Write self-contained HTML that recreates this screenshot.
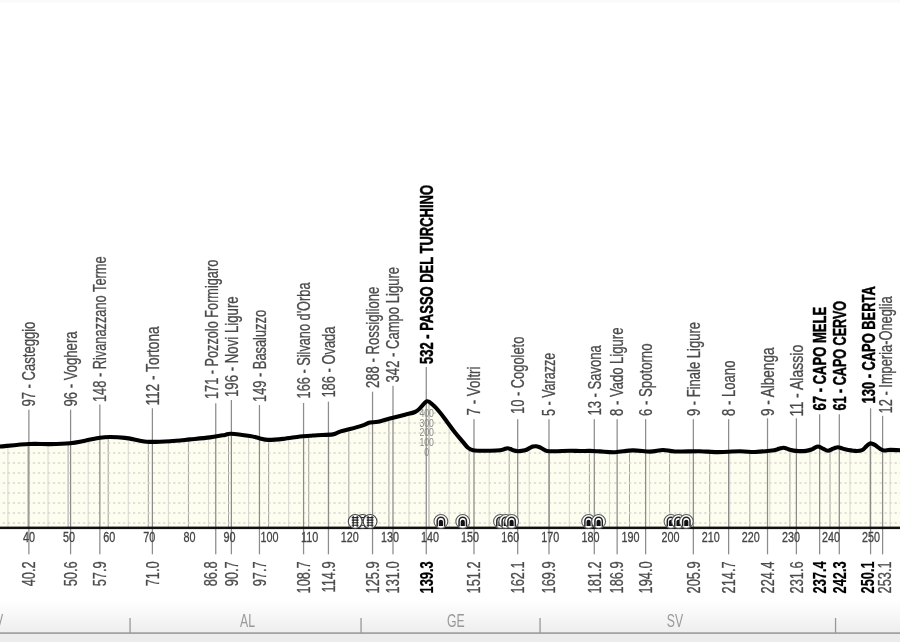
<!DOCTYPE html>
<html><head><meta charset="utf-8"><style>
html,body{margin:0;padding:0;background:#fff;overflow:hidden}
svg{display:block;position:absolute;left:-5px;top:-5px;filter:blur(0.35px);font-family:"Liberation Sans",sans-serif}
</style></head><body>
<svg width="910" height="652" viewBox="-5 -5 910 652">
<defs><linearGradient id="bg" x1="0" y1="0" x2="0" y2="1"><stop offset="0" stop-color="#ffffff"/><stop offset="1" stop-color="#eeeeee"/></linearGradient>
<clipPath id="cp"><path d="M-6,447 C-5.00,446.92 -5.83,447.00 0,446.5 C5.83,446.00 20.67,444.40 29,444.0 C37.33,443.60 43.17,444.23 50,444.1 C56.83,443.97 64.17,443.77 70,443.2 C75.83,442.63 80.00,441.62 85,440.7 C90.00,439.78 95.83,438.32 100,437.7 C104.17,437.08 105.83,436.97 110,437.0 C114.17,437.03 120.00,437.28 125,437.9 C130.00,438.52 135.83,440.03 140,440.7 C144.17,441.37 145.00,441.82 150,441.9 C155.00,441.98 163.33,441.62 170,441.2 C176.67,440.78 183.33,440.03 190,439.4 C196.67,438.77 204.17,438.15 210,437.4 C215.83,436.65 221.50,435.52 225,434.9 C228.50,434.28 226.83,433.52 231,433.7 C235.17,433.88 245.17,435.22 250,436 C254.83,436.78 257.00,437.75 260,438.4 C263.00,439.05 264.17,439.82 268,439.9 C271.83,439.98 277.67,439.47 283,438.9 C288.33,438.33 295.50,437.02 300,436.5 C304.50,435.98 307.17,436.02 310,435.8 C312.83,435.58 313.17,435.43 317,435.2 C320.83,434.97 329.17,435.00 333,434.4 C336.83,433.80 337.17,432.48 340,431.6 C342.83,430.72 346.33,430.10 350,429.1 C353.67,428.10 358.67,426.70 362,425.6 C365.33,424.50 367.33,423.13 370,422.5 C372.67,421.87 374.33,422.55 378,421.8 C381.67,421.05 387.50,419.18 392,418 C396.50,416.82 401.17,415.70 405,414.7 C408.83,413.70 412.50,413.07 415,412 C417.50,410.93 418.00,410.08 420,408.3 C422.00,406.52 424.83,401.85 427,401.3 C429.17,400.75 430.83,403.13 433,405 C435.17,406.87 437.67,409.72 440,412.5 C442.33,415.28 444.50,418.37 447,421.7 C449.50,425.03 452.50,429.32 455,432.5 C457.50,435.68 459.83,438.25 462,440.8 C464.17,443.35 466.17,446.22 468,447.8 C469.83,449.38 471.00,449.82 473,450.3 C475.00,450.78 477.17,450.63 480,450.7 C482.83,450.77 486.67,450.77 490,450.7 C493.33,450.63 497.67,450.55 500,450.3 C502.33,450.05 502.75,449.55 504,449.2 C505.25,448.85 506.42,448.23 507.5,448.2 C508.58,448.17 509.58,448.65 510.5,449 C511.42,449.35 511.75,449.93 513,450.3 C514.25,450.67 516.00,451.20 518,451.2 C520.00,451.20 523.00,450.85 525,450.3 C527.00,449.75 528.67,448.52 530,447.9 C531.33,447.28 532.00,446.87 533,446.6 C534.00,446.33 535.00,446.23 536,446.3 C537.00,446.37 538.00,446.63 539,447 C540.00,447.37 540.67,447.85 542,448.5 C543.33,449.15 544.83,450.45 547,450.9 C549.17,451.35 551.17,451.23 555,451.2 C558.83,451.17 565.83,450.73 570,450.7 C574.17,450.67 576.67,450.97 580,451 C583.33,451.03 586.67,450.83 590,450.9 C593.33,450.97 595.83,451.18 600,451.4 C604.17,451.62 609.50,452.37 615,452.2 C620.50,452.03 627.17,450.50 633,450.4 C638.83,450.30 645.00,451.67 650,451.6 C655.00,451.53 658.83,450.02 663,450 C667.17,449.98 668.83,451.30 675,451.5 C681.17,451.70 693.33,451.10 700,451.2 C706.67,451.30 708.33,452.08 715,452.1 C721.67,452.12 733.33,451.32 740,451.3 C746.67,451.28 749.67,452.13 755,452 C760.33,451.87 768.33,450.93 772,450.5 C775.67,450.07 775.58,449.77 777,449.4 C778.42,449.03 779.38,448.57 780.5,448.3 C781.62,448.03 782.62,447.75 783.7,447.8 C784.78,447.85 785.95,448.28 787,448.6 C788.05,448.92 788.50,449.32 790,449.7 C791.50,450.08 793.33,450.70 796,450.9 C798.67,451.10 803.33,451.17 806,450.9 C808.67,450.63 810.50,449.85 812,449.3 C813.50,448.75 814.00,448.07 815,447.6 C816.00,447.13 817.08,446.55 818,446.5 C818.92,446.45 819.67,446.93 820.5,447.3 C821.33,447.67 821.75,448.12 823,448.7 C824.25,449.28 826.33,450.80 828,450.8 C829.67,450.80 831.75,449.22 833,448.7 C834.25,448.18 834.67,447.93 835.5,447.7 C836.33,447.47 837.08,447.25 838,447.3 C838.92,447.35 839.83,447.67 841,448 C842.17,448.33 842.67,448.82 845,449.3 C847.33,449.78 852.17,450.75 855,450.9 C857.83,451.05 860.17,450.92 862,450.2 C863.83,449.48 864.92,447.57 866,446.6 C867.08,445.63 867.75,444.93 868.5,444.4 C869.25,443.87 869.83,443.48 870.5,443.4 C871.17,443.32 871.75,443.62 872.5,443.9 C873.25,444.18 873.75,444.30 875,445.1 C876.25,445.90 878.50,447.80 880,448.7 C881.50,449.60 882.33,450.30 884,450.5 C885.67,450.70 887.33,449.95 890,449.9 C892.67,449.85 897.33,450.13 900,450.2 C902.67,450.27 905.00,450.28 906,450.3 L906,527 L-6,527 Z"/></clipPath></defs>
<rect x="-5" y="-5" width="910" height="652" fill="#fff"/>
<rect x="-5" y="-5" width="910" height="7.7" fill="#fafafa"/>
<rect x="-5" y="600" width="910" height="33" fill="url(#bg)"/>
<rect x="-5" y="633.8" width="910" height="14" fill="#ececec"/>
<rect x="-5" y="632.3" width="910" height="1.6" fill="#9a9a9a"/>
<rect x="129.4" y="618" width="1.3" height="15" fill="#999"/>
<rect x="360.4" y="618" width="1.3" height="15" fill="#999"/>
<rect x="539.4" y="618" width="1.3" height="15" fill="#999"/>
<rect x="834.9" y="618" width="1.3" height="15" fill="#999"/>
<text transform="translate(-5,626.5) scale(0.7,1)" text-anchor="middle" font-size="17.5" fill="#999">PV</text>
<text transform="translate(247.5,626.5) scale(0.7,1)" text-anchor="middle" font-size="17.5" fill="#999">AL</text>
<text transform="translate(455.8,626.5) scale(0.7,1)" text-anchor="middle" font-size="17.5" fill="#999">GE</text>
<text transform="translate(675,626.5) scale(0.7,1)" text-anchor="middle" font-size="17.5" fill="#999">SV</text>
<path d="M-6,447 C-5.00,446.92 -5.83,447.00 0,446.5 C5.83,446.00 20.67,444.40 29,444.0 C37.33,443.60 43.17,444.23 50,444.1 C56.83,443.97 64.17,443.77 70,443.2 C75.83,442.63 80.00,441.62 85,440.7 C90.00,439.78 95.83,438.32 100,437.7 C104.17,437.08 105.83,436.97 110,437.0 C114.17,437.03 120.00,437.28 125,437.9 C130.00,438.52 135.83,440.03 140,440.7 C144.17,441.37 145.00,441.82 150,441.9 C155.00,441.98 163.33,441.62 170,441.2 C176.67,440.78 183.33,440.03 190,439.4 C196.67,438.77 204.17,438.15 210,437.4 C215.83,436.65 221.50,435.52 225,434.9 C228.50,434.28 226.83,433.52 231,433.7 C235.17,433.88 245.17,435.22 250,436 C254.83,436.78 257.00,437.75 260,438.4 C263.00,439.05 264.17,439.82 268,439.9 C271.83,439.98 277.67,439.47 283,438.9 C288.33,438.33 295.50,437.02 300,436.5 C304.50,435.98 307.17,436.02 310,435.8 C312.83,435.58 313.17,435.43 317,435.2 C320.83,434.97 329.17,435.00 333,434.4 C336.83,433.80 337.17,432.48 340,431.6 C342.83,430.72 346.33,430.10 350,429.1 C353.67,428.10 358.67,426.70 362,425.6 C365.33,424.50 367.33,423.13 370,422.5 C372.67,421.87 374.33,422.55 378,421.8 C381.67,421.05 387.50,419.18 392,418 C396.50,416.82 401.17,415.70 405,414.7 C408.83,413.70 412.50,413.07 415,412 C417.50,410.93 418.00,410.08 420,408.3 C422.00,406.52 424.83,401.85 427,401.3 C429.17,400.75 430.83,403.13 433,405 C435.17,406.87 437.67,409.72 440,412.5 C442.33,415.28 444.50,418.37 447,421.7 C449.50,425.03 452.50,429.32 455,432.5 C457.50,435.68 459.83,438.25 462,440.8 C464.17,443.35 466.17,446.22 468,447.8 C469.83,449.38 471.00,449.82 473,450.3 C475.00,450.78 477.17,450.63 480,450.7 C482.83,450.77 486.67,450.77 490,450.7 C493.33,450.63 497.67,450.55 500,450.3 C502.33,450.05 502.75,449.55 504,449.2 C505.25,448.85 506.42,448.23 507.5,448.2 C508.58,448.17 509.58,448.65 510.5,449 C511.42,449.35 511.75,449.93 513,450.3 C514.25,450.67 516.00,451.20 518,451.2 C520.00,451.20 523.00,450.85 525,450.3 C527.00,449.75 528.67,448.52 530,447.9 C531.33,447.28 532.00,446.87 533,446.6 C534.00,446.33 535.00,446.23 536,446.3 C537.00,446.37 538.00,446.63 539,447 C540.00,447.37 540.67,447.85 542,448.5 C543.33,449.15 544.83,450.45 547,450.9 C549.17,451.35 551.17,451.23 555,451.2 C558.83,451.17 565.83,450.73 570,450.7 C574.17,450.67 576.67,450.97 580,451 C583.33,451.03 586.67,450.83 590,450.9 C593.33,450.97 595.83,451.18 600,451.4 C604.17,451.62 609.50,452.37 615,452.2 C620.50,452.03 627.17,450.50 633,450.4 C638.83,450.30 645.00,451.67 650,451.6 C655.00,451.53 658.83,450.02 663,450 C667.17,449.98 668.83,451.30 675,451.5 C681.17,451.70 693.33,451.10 700,451.2 C706.67,451.30 708.33,452.08 715,452.1 C721.67,452.12 733.33,451.32 740,451.3 C746.67,451.28 749.67,452.13 755,452 C760.33,451.87 768.33,450.93 772,450.5 C775.67,450.07 775.58,449.77 777,449.4 C778.42,449.03 779.38,448.57 780.5,448.3 C781.62,448.03 782.62,447.75 783.7,447.8 C784.78,447.85 785.95,448.28 787,448.6 C788.05,448.92 788.50,449.32 790,449.7 C791.50,450.08 793.33,450.70 796,450.9 C798.67,451.10 803.33,451.17 806,450.9 C808.67,450.63 810.50,449.85 812,449.3 C813.50,448.75 814.00,448.07 815,447.6 C816.00,447.13 817.08,446.55 818,446.5 C818.92,446.45 819.67,446.93 820.5,447.3 C821.33,447.67 821.75,448.12 823,448.7 C824.25,449.28 826.33,450.80 828,450.8 C829.67,450.80 831.75,449.22 833,448.7 C834.25,448.18 834.67,447.93 835.5,447.7 C836.33,447.47 837.08,447.25 838,447.3 C838.92,447.35 839.83,447.67 841,448 C842.17,448.33 842.67,448.82 845,449.3 C847.33,449.78 852.17,450.75 855,450.9 C857.83,451.05 860.17,450.92 862,450.2 C863.83,449.48 864.92,447.57 866,446.6 C867.08,445.63 867.75,444.93 868.5,444.4 C869.25,443.87 869.83,443.48 870.5,443.4 C871.17,443.32 871.75,443.62 872.5,443.9 C873.25,444.18 873.75,444.30 875,445.1 C876.25,445.90 878.50,447.80 880,448.7 C881.50,449.60 882.33,450.30 884,450.5 C885.67,450.70 887.33,449.95 890,449.9 C892.67,449.85 897.33,450.13 900,450.2 C902.67,450.27 905.00,450.28 906,450.3 L906,527 L-6,527 Z" fill="#fdfdf0"/>
<g clip-path="url(#cp)">
<rect x="-12.60" y="380" width="1" height="147" fill="#a4a4a0"/>
<rect x="7.45" y="380" width="1" height="147" fill="#d6d6d0"/>
<rect x="27.50" y="380" width="1" height="147" fill="#a4a4a0"/>
<rect x="47.55" y="380" width="1" height="147" fill="#d6d6d0"/>
<rect x="67.60" y="380" width="1" height="147" fill="#a4a4a0"/>
<rect x="87.65" y="380" width="1" height="147" fill="#d6d6d0"/>
<rect x="107.70" y="380" width="1" height="147" fill="#a4a4a0"/>
<rect x="127.75" y="380" width="1" height="147" fill="#d6d6d0"/>
<rect x="147.80" y="380" width="1" height="147" fill="#a4a4a0"/>
<rect x="167.85" y="380" width="1" height="147" fill="#d6d6d0"/>
<rect x="187.90" y="380" width="1" height="147" fill="#a4a4a0"/>
<rect x="207.95" y="380" width="1" height="147" fill="#d6d6d0"/>
<rect x="228.00" y="380" width="1" height="147" fill="#a4a4a0"/>
<rect x="248.05" y="380" width="1" height="147" fill="#d6d6d0"/>
<rect x="268.10" y="380" width="1" height="147" fill="#a4a4a0"/>
<rect x="288.15" y="380" width="1" height="147" fill="#d6d6d0"/>
<rect x="308.20" y="380" width="1" height="147" fill="#a4a4a0"/>
<rect x="328.25" y="380" width="1" height="147" fill="#d6d6d0"/>
<rect x="348.30" y="380" width="1" height="147" fill="#a4a4a0"/>
<rect x="368.35" y="380" width="1" height="147" fill="#d6d6d0"/>
<rect x="388.40" y="380" width="1" height="147" fill="#a4a4a0"/>
<rect x="408.45" y="380" width="1" height="147" fill="#d6d6d0"/>
<rect x="428.50" y="380" width="1" height="147" fill="#a4a4a0"/>
<rect x="448.55" y="380" width="1" height="147" fill="#d6d6d0"/>
<rect x="468.60" y="380" width="1" height="147" fill="#a4a4a0"/>
<rect x="488.65" y="380" width="1" height="147" fill="#d6d6d0"/>
<rect x="508.70" y="380" width="1" height="147" fill="#a4a4a0"/>
<rect x="528.75" y="380" width="1" height="147" fill="#d6d6d0"/>
<rect x="548.80" y="380" width="1" height="147" fill="#a4a4a0"/>
<rect x="568.85" y="380" width="1" height="147" fill="#d6d6d0"/>
<rect x="588.90" y="380" width="1" height="147" fill="#a4a4a0"/>
<rect x="608.95" y="380" width="1" height="147" fill="#d6d6d0"/>
<rect x="629.00" y="380" width="1" height="147" fill="#a4a4a0"/>
<rect x="649.05" y="380" width="1" height="147" fill="#d6d6d0"/>
<rect x="669.10" y="380" width="1" height="147" fill="#a4a4a0"/>
<rect x="689.15" y="380" width="1" height="147" fill="#d6d6d0"/>
<rect x="709.20" y="380" width="1" height="147" fill="#a4a4a0"/>
<rect x="729.25" y="380" width="1" height="147" fill="#d6d6d0"/>
<rect x="749.30" y="380" width="1" height="147" fill="#a4a4a0"/>
<rect x="769.35" y="380" width="1" height="147" fill="#d6d6d0"/>
<rect x="789.40" y="380" width="1" height="147" fill="#a4a4a0"/>
<rect x="809.45" y="380" width="1" height="147" fill="#d6d6d0"/>
<rect x="829.50" y="380" width="1" height="147" fill="#a4a4a0"/>
<rect x="849.55" y="380" width="1" height="147" fill="#d6d6d0"/>
<rect x="869.60" y="380" width="1" height="147" fill="#a4a4a0"/>
<rect x="889.65" y="380" width="1" height="147" fill="#d6d6d0"/>
<line x1="-6" y1="452.9" x2="906" y2="452.9" stroke="#d8d8d0" stroke-width="1.5" stroke-dasharray="2.3 2.71" stroke-dashoffset="-8.74"/>
<line x1="-6" y1="442.9" x2="906" y2="442.9" stroke="#d8d8d0" stroke-width="1.5" stroke-dasharray="2.3 2.71" stroke-dashoffset="-8.74"/>
<line x1="-6" y1="432.9" x2="906" y2="432.9" stroke="#d8d8d0" stroke-width="1.5" stroke-dasharray="2.3 2.71" stroke-dashoffset="-8.74"/>
<line x1="-6" y1="422.9" x2="906" y2="422.9" stroke="#d8d8d0" stroke-width="1.5" stroke-dasharray="2.3 2.71" stroke-dashoffset="-8.74"/>
<line x1="-6" y1="412.9" x2="906" y2="412.9" stroke="#d8d8d0" stroke-width="1.5" stroke-dasharray="2.3 2.71" stroke-dashoffset="-8.74"/>
<line x1="-6" y1="402.9" x2="906" y2="402.9" stroke="#d8d8d0" stroke-width="1.5" stroke-dasharray="2.3 2.71" stroke-dashoffset="-8.74"/>
<line x1="-6" y1="462.9" x2="906" y2="462.9" stroke="#d8d8d0" stroke-width="1.5" stroke-dasharray="2.3 2.71" stroke-dashoffset="-8.74"/>
<line x1="-6" y1="472.9" x2="906" y2="472.9" stroke="#d8d8d0" stroke-width="1.5" stroke-dasharray="2.3 2.71" stroke-dashoffset="-8.74"/>
<line x1="-6" y1="482.9" x2="906" y2="482.9" stroke="#d8d8d0" stroke-width="1.5" stroke-dasharray="2.3 2.71" stroke-dashoffset="-8.74"/>
<line x1="-6" y1="492.9" x2="906" y2="492.9" stroke="#d8d8d0" stroke-width="1.5" stroke-dasharray="2.3 2.71" stroke-dashoffset="-8.74"/>
<line x1="-6" y1="502.9" x2="906" y2="502.9" stroke="#d8d8d0" stroke-width="1.5" stroke-dasharray="2.3 2.71" stroke-dashoffset="-8.74"/>
<line x1="-6" y1="512.9" x2="906" y2="512.9" stroke="#d8d8d0" stroke-width="1.5" stroke-dasharray="2.3 2.71" stroke-dashoffset="-8.74"/>
<line x1="-6" y1="522.9" x2="906" y2="522.9" stroke="#d8d8d0" stroke-width="1.5" stroke-dasharray="2.3 2.71" stroke-dashoffset="-8.74"/>
</g>
<rect x="28.25" y="409.7" width="1.25" height="117.30000000000001" fill="#8c8c8c"/>
<rect x="28.25" y="527" width="1.25" height="27.3" fill="#8c8c8c"/>
<rect x="69.96" y="409.7" width="1.25" height="117.30000000000001" fill="#8c8c8c"/>
<rect x="69.96" y="527" width="1.25" height="27.3" fill="#8c8c8c"/>
<rect x="99.23" y="404.5" width="1.25" height="122.5" fill="#8c8c8c"/>
<rect x="99.23" y="527" width="1.25" height="27.3" fill="#8c8c8c"/>
<rect x="151.76" y="408.3" width="1.25" height="118.69999999999999" fill="#8c8c8c"/>
<rect x="151.76" y="527" width="1.25" height="27.3" fill="#8c8c8c"/>
<rect x="215.12" y="403.3" width="1.25" height="123.69999999999999" fill="#8c8c8c"/>
<rect x="215.12" y="527" width="1.25" height="27.3" fill="#8c8c8c"/>
<rect x="230.76" y="400" width="1.25" height="127" fill="#8c8c8c"/>
<rect x="230.76" y="527" width="1.25" height="27.3" fill="#8c8c8c"/>
<rect x="258.83" y="405" width="1.25" height="122" fill="#8c8c8c"/>
<rect x="258.83" y="527" width="1.25" height="27.3" fill="#8c8c8c"/>
<rect x="302.94" y="403" width="1.25" height="124" fill="#8c8c8c"/>
<rect x="302.94" y="527" width="1.25" height="27.3" fill="#8c8c8c"/>
<rect x="327.80" y="401.7" width="1.25" height="125.30000000000001" fill="#8c8c8c"/>
<rect x="327.80" y="527" width="1.25" height="27.3" fill="#8c8c8c"/>
<rect x="371.91" y="391.7" width="1.25" height="135.3" fill="#8c8c8c"/>
<rect x="371.91" y="527" width="1.25" height="27.3" fill="#8c8c8c"/>
<rect x="392.36" y="385.8" width="1.25" height="141.2" fill="#8c8c8c"/>
<rect x="392.36" y="527" width="1.25" height="27.3" fill="#8c8c8c"/>
<rect x="425.64" y="367" width="1.25" height="160" fill="#8c8c8c"/>
<rect x="425.64" y="527" width="1.25" height="27.3" fill="#8c8c8c"/>
<rect x="473.36" y="419.2" width="1.25" height="107.80000000000001" fill="#8c8c8c"/>
<rect x="473.36" y="527" width="1.25" height="27.3" fill="#8c8c8c"/>
<rect x="517.07" y="419.2" width="1.25" height="107.80000000000001" fill="#8c8c8c"/>
<rect x="517.07" y="527" width="1.25" height="27.3" fill="#8c8c8c"/>
<rect x="548.35" y="419.2" width="1.25" height="107.80000000000001" fill="#8c8c8c"/>
<rect x="548.35" y="527" width="1.25" height="27.3" fill="#8c8c8c"/>
<rect x="593.66" y="419.2" width="1.25" height="107.80000000000001" fill="#8c8c8c"/>
<rect x="593.66" y="527" width="1.25" height="27.3" fill="#8c8c8c"/>
<rect x="616.52" y="419.2" width="1.25" height="107.80000000000001" fill="#8c8c8c"/>
<rect x="616.52" y="527" width="1.25" height="27.3" fill="#8c8c8c"/>
<rect x="644.99" y="419.2" width="1.25" height="107.80000000000001" fill="#8c8c8c"/>
<rect x="644.99" y="527" width="1.25" height="27.3" fill="#8c8c8c"/>
<rect x="692.71" y="419.2" width="1.25" height="107.80000000000001" fill="#8c8c8c"/>
<rect x="692.71" y="527" width="1.25" height="27.3" fill="#8c8c8c"/>
<rect x="728.00" y="419.2" width="1.25" height="107.80000000000001" fill="#8c8c8c"/>
<rect x="728.00" y="527" width="1.25" height="27.3" fill="#8c8c8c"/>
<rect x="766.89" y="418.3" width="1.25" height="108.69999999999999" fill="#8c8c8c"/>
<rect x="766.89" y="527" width="1.25" height="27.3" fill="#8c8c8c"/>
<rect x="795.77" y="418.3" width="1.25" height="108.69999999999999" fill="#8c8c8c"/>
<rect x="795.77" y="527" width="1.25" height="27.3" fill="#8c8c8c"/>
<rect x="819.02" y="414.2" width="1.25" height="112.80000000000001" fill="#8c8c8c"/>
<rect x="819.02" y="527" width="1.25" height="27.3" fill="#8c8c8c"/>
<rect x="838.67" y="414.2" width="1.25" height="112.80000000000001" fill="#8c8c8c"/>
<rect x="838.67" y="527" width="1.25" height="27.3" fill="#8c8c8c"/>
<rect x="869.95" y="408.3" width="1.25" height="118.69999999999999" fill="#8c8c8c"/>
<rect x="869.95" y="527" width="1.25" height="27.3" fill="#8c8c8c"/>
<rect x="881.98" y="415.8" width="1.25" height="111.19999999999999" fill="#8c8c8c"/>
<rect x="881.98" y="527" width="1.25" height="27.3" fill="#8c8c8c"/>
<path d="M-6,447 C-5.00,446.92 -5.83,447.00 0,446.5 C5.83,446.00 20.67,444.40 29,444.0 C37.33,443.60 43.17,444.23 50,444.1 C56.83,443.97 64.17,443.77 70,443.2 C75.83,442.63 80.00,441.62 85,440.7 C90.00,439.78 95.83,438.32 100,437.7 C104.17,437.08 105.83,436.97 110,437.0 C114.17,437.03 120.00,437.28 125,437.9 C130.00,438.52 135.83,440.03 140,440.7 C144.17,441.37 145.00,441.82 150,441.9 C155.00,441.98 163.33,441.62 170,441.2 C176.67,440.78 183.33,440.03 190,439.4 C196.67,438.77 204.17,438.15 210,437.4 C215.83,436.65 221.50,435.52 225,434.9 C228.50,434.28 226.83,433.52 231,433.7 C235.17,433.88 245.17,435.22 250,436 C254.83,436.78 257.00,437.75 260,438.4 C263.00,439.05 264.17,439.82 268,439.9 C271.83,439.98 277.67,439.47 283,438.9 C288.33,438.33 295.50,437.02 300,436.5 C304.50,435.98 307.17,436.02 310,435.8 C312.83,435.58 313.17,435.43 317,435.2 C320.83,434.97 329.17,435.00 333,434.4 C336.83,433.80 337.17,432.48 340,431.6 C342.83,430.72 346.33,430.10 350,429.1 C353.67,428.10 358.67,426.70 362,425.6 C365.33,424.50 367.33,423.13 370,422.5 C372.67,421.87 374.33,422.55 378,421.8 C381.67,421.05 387.50,419.18 392,418 C396.50,416.82 401.17,415.70 405,414.7 C408.83,413.70 412.50,413.07 415,412 C417.50,410.93 418.00,410.08 420,408.3 C422.00,406.52 424.83,401.85 427,401.3 C429.17,400.75 430.83,403.13 433,405 C435.17,406.87 437.67,409.72 440,412.5 C442.33,415.28 444.50,418.37 447,421.7 C449.50,425.03 452.50,429.32 455,432.5 C457.50,435.68 459.83,438.25 462,440.8 C464.17,443.35 466.17,446.22 468,447.8 C469.83,449.38 471.00,449.82 473,450.3 C475.00,450.78 477.17,450.63 480,450.7 C482.83,450.77 486.67,450.77 490,450.7 C493.33,450.63 497.67,450.55 500,450.3 C502.33,450.05 502.75,449.55 504,449.2 C505.25,448.85 506.42,448.23 507.5,448.2 C508.58,448.17 509.58,448.65 510.5,449 C511.42,449.35 511.75,449.93 513,450.3 C514.25,450.67 516.00,451.20 518,451.2 C520.00,451.20 523.00,450.85 525,450.3 C527.00,449.75 528.67,448.52 530,447.9 C531.33,447.28 532.00,446.87 533,446.6 C534.00,446.33 535.00,446.23 536,446.3 C537.00,446.37 538.00,446.63 539,447 C540.00,447.37 540.67,447.85 542,448.5 C543.33,449.15 544.83,450.45 547,450.9 C549.17,451.35 551.17,451.23 555,451.2 C558.83,451.17 565.83,450.73 570,450.7 C574.17,450.67 576.67,450.97 580,451 C583.33,451.03 586.67,450.83 590,450.9 C593.33,450.97 595.83,451.18 600,451.4 C604.17,451.62 609.50,452.37 615,452.2 C620.50,452.03 627.17,450.50 633,450.4 C638.83,450.30 645.00,451.67 650,451.6 C655.00,451.53 658.83,450.02 663,450 C667.17,449.98 668.83,451.30 675,451.5 C681.17,451.70 693.33,451.10 700,451.2 C706.67,451.30 708.33,452.08 715,452.1 C721.67,452.12 733.33,451.32 740,451.3 C746.67,451.28 749.67,452.13 755,452 C760.33,451.87 768.33,450.93 772,450.5 C775.67,450.07 775.58,449.77 777,449.4 C778.42,449.03 779.38,448.57 780.5,448.3 C781.62,448.03 782.62,447.75 783.7,447.8 C784.78,447.85 785.95,448.28 787,448.6 C788.05,448.92 788.50,449.32 790,449.7 C791.50,450.08 793.33,450.70 796,450.9 C798.67,451.10 803.33,451.17 806,450.9 C808.67,450.63 810.50,449.85 812,449.3 C813.50,448.75 814.00,448.07 815,447.6 C816.00,447.13 817.08,446.55 818,446.5 C818.92,446.45 819.67,446.93 820.5,447.3 C821.33,447.67 821.75,448.12 823,448.7 C824.25,449.28 826.33,450.80 828,450.8 C829.67,450.80 831.75,449.22 833,448.7 C834.25,448.18 834.67,447.93 835.5,447.7 C836.33,447.47 837.08,447.25 838,447.3 C838.92,447.35 839.83,447.67 841,448 C842.17,448.33 842.67,448.82 845,449.3 C847.33,449.78 852.17,450.75 855,450.9 C857.83,451.05 860.17,450.92 862,450.2 C863.83,449.48 864.92,447.57 866,446.6 C867.08,445.63 867.75,444.93 868.5,444.4 C869.25,443.87 869.83,443.48 870.5,443.4 C871.17,443.32 871.75,443.62 872.5,443.9 C873.25,444.18 873.75,444.30 875,445.1 C876.25,445.90 878.50,447.80 880,448.7 C881.50,449.60 882.33,450.30 884,450.5 C885.67,450.70 887.33,449.95 890,449.9 C892.67,449.85 897.33,450.13 900,450.2 C902.67,450.27 905.00,450.28 906,450.3" fill="none" stroke="#000" stroke-width="4.1" stroke-linejoin="round" stroke-linecap="round"/>
<rect x="-5" y="526.6" width="910" height="2.5" fill="#111"/>
<text transform="translate(426.69,416.6) scale(0.85,1)" text-anchor="middle" font-size="10.3" fill="#888">400</text>
<text transform="translate(426.69,426.5) scale(0.85,1)" text-anchor="middle" font-size="10.3" fill="#888">300</text>
<text transform="translate(426.69,436.3) scale(0.85,1)" text-anchor="middle" font-size="10.3" fill="#888">200</text>
<text transform="translate(426.69,446.2) scale(0.85,1)" text-anchor="middle" font-size="10.3" fill="#888">100</text>
<text transform="translate(426.69,456.0) scale(0.85,1)" text-anchor="middle" font-size="10.3" fill="#888">0</text>
<text transform="translate(29.00,542) scale(0.745,1)" text-anchor="middle" font-size="14.5" fill="#444" stroke="#444" stroke-width="0.3">40</text>
<text transform="translate(69.10,542) scale(0.745,1)" text-anchor="middle" font-size="14.5" fill="#444" stroke="#444" stroke-width="0.3">50</text>
<text transform="translate(109.20,542) scale(0.745,1)" text-anchor="middle" font-size="14.5" fill="#444" stroke="#444" stroke-width="0.3">60</text>
<text transform="translate(149.30,542) scale(0.745,1)" text-anchor="middle" font-size="14.5" fill="#444" stroke="#444" stroke-width="0.3">70</text>
<text transform="translate(189.40,542) scale(0.745,1)" text-anchor="middle" font-size="14.5" fill="#444" stroke="#444" stroke-width="0.3">80</text>
<text transform="translate(229.50,542) scale(0.745,1)" text-anchor="middle" font-size="14.5" fill="#444" stroke="#444" stroke-width="0.3">90</text>
<text transform="translate(269.60,542) scale(0.745,1)" text-anchor="middle" font-size="14.5" fill="#444" stroke="#444" stroke-width="0.3">100</text>
<text transform="translate(309.70,542) scale(0.745,1)" text-anchor="middle" font-size="14.5" fill="#444" stroke="#444" stroke-width="0.3">110</text>
<text transform="translate(349.80,542) scale(0.745,1)" text-anchor="middle" font-size="14.5" fill="#444" stroke="#444" stroke-width="0.3">120</text>
<text transform="translate(389.90,542) scale(0.745,1)" text-anchor="middle" font-size="14.5" fill="#444" stroke="#444" stroke-width="0.3">130</text>
<text transform="translate(430.00,542) scale(0.745,1)" text-anchor="middle" font-size="14.5" fill="#444" stroke="#444" stroke-width="0.3">140</text>
<text transform="translate(470.10,542) scale(0.745,1)" text-anchor="middle" font-size="14.5" fill="#444" stroke="#444" stroke-width="0.3">150</text>
<text transform="translate(510.20,542) scale(0.745,1)" text-anchor="middle" font-size="14.5" fill="#444" stroke="#444" stroke-width="0.3">160</text>
<text transform="translate(550.30,542) scale(0.745,1)" text-anchor="middle" font-size="14.5" fill="#444" stroke="#444" stroke-width="0.3">170</text>
<text transform="translate(590.40,542) scale(0.745,1)" text-anchor="middle" font-size="14.5" fill="#444" stroke="#444" stroke-width="0.3">180</text>
<text transform="translate(630.50,542) scale(0.745,1)" text-anchor="middle" font-size="14.5" fill="#444" stroke="#444" stroke-width="0.3">190</text>
<text transform="translate(670.60,542) scale(0.745,1)" text-anchor="middle" font-size="14.5" fill="#444" stroke="#444" stroke-width="0.3">200</text>
<text transform="translate(710.70,542) scale(0.745,1)" text-anchor="middle" font-size="14.5" fill="#444" stroke="#444" stroke-width="0.3">210</text>
<text transform="translate(750.80,542) scale(0.745,1)" text-anchor="middle" font-size="14.5" fill="#444" stroke="#444" stroke-width="0.3">220</text>
<text transform="translate(790.90,542) scale(0.745,1)" text-anchor="middle" font-size="14.5" fill="#444" stroke="#444" stroke-width="0.3">230</text>
<text transform="translate(831.00,542) scale(0.745,1)" text-anchor="middle" font-size="14.5" fill="#444" stroke="#444" stroke-width="0.3">240</text>
<text transform="translate(871.10,542) scale(0.745,1)" text-anchor="middle" font-size="14.5" fill="#444" stroke="#444" stroke-width="0.3">250</text>
<text transform="translate(35.20,406.60) rotate(-90) scale(0.7262,1)" font-size="18" font-weight="normal" fill="#4a4a4a" stroke="#4a4a4a" stroke-width="0.3">97 - Casteggio</text>
<text transform="translate(76.91,406.60) rotate(-90) scale(0.7299,1)" font-size="18" font-weight="normal" fill="#4a4a4a" stroke="#4a4a4a" stroke-width="0.3">96 - Voghera</text>
<text transform="translate(106.18,402.00) rotate(-90) scale(0.7115,1)" font-size="18" font-weight="normal" fill="#4a4a4a" stroke="#4a4a4a" stroke-width="0.3">148 - Rivanazzano Terme</text>
<text transform="translate(158.71,405.60) rotate(-90) scale(0.7603,1)" font-size="18" font-weight="normal" fill="#4a4a4a" stroke="#4a4a4a" stroke-width="0.3">112 - Tortona</text>
<text transform="translate(217.57,399.00) rotate(-90) scale(0.7068,1)" font-size="18" font-weight="normal" fill="#4a4a4a" stroke="#4a4a4a" stroke-width="0.3">171 - Pozzolo Formigaro</text>
<text transform="translate(237.71,397.00) rotate(-90) scale(0.7351,1)" font-size="18" font-weight="normal" fill="#4a4a4a" stroke="#4a4a4a" stroke-width="0.3">196 - Novi Ligure</text>
<text transform="translate(265.78,402.00) rotate(-90) scale(0.7140,1)" font-size="18" font-weight="normal" fill="#4a4a4a" stroke="#4a4a4a" stroke-width="0.3">149 - Basaluzzo</text>
<text transform="translate(309.89,398.40) rotate(-90) scale(0.7090,1)" font-size="18" font-weight="normal" fill="#4a4a4a" stroke="#4a4a4a" stroke-width="0.3">166 - Silvano d'Orba</text>
<text transform="translate(334.75,397.60) rotate(-90) scale(0.7182,1)" font-size="18" font-weight="normal" fill="#4a4a4a" stroke="#4a4a4a" stroke-width="0.3">186 - Ovada</text>
<text transform="translate(378.86,388.00) rotate(-90) scale(0.7287,1)" font-size="18" font-weight="normal" fill="#4a4a4a" stroke="#4a4a4a" stroke-width="0.3">288 - Rossiglione</text>
<text transform="translate(399.31,382.40) rotate(-90) scale(0.7261,1)" font-size="18" font-weight="normal" fill="#4a4a4a" stroke="#4a4a4a" stroke-width="0.3">342 - Campo Ligure</text>
<text transform="translate(432.59,364.00) rotate(-90) scale(0.7209,1)" font-size="18" font-weight="bold" fill="#000" stroke="#000" stroke-width="0.45">532 - PASSO DEL TURCHINO</text>
<text transform="translate(480.31,415.40) rotate(-90) scale(0.7410,1)" font-size="18" font-weight="normal" fill="#4a4a4a" stroke="#4a4a4a" stroke-width="0.3">7 - Voltri</text>
<text transform="translate(524.02,414.00) rotate(-90) scale(0.7159,1)" font-size="18" font-weight="normal" fill="#4a4a4a" stroke="#4a4a4a" stroke-width="0.3">10 - Cogoleto</text>
<text transform="translate(555.30,416.00) rotate(-90) scale(0.6993,1)" font-size="18" font-weight="normal" fill="#4a4a4a" stroke="#4a4a4a" stroke-width="0.3">5 - Varazze</text>
<text transform="translate(600.61,415.60) rotate(-90) scale(0.7259,1)" font-size="18" font-weight="normal" fill="#4a4a4a" stroke="#4a4a4a" stroke-width="0.3">13 - Savona</text>
<text transform="translate(623.47,416.00) rotate(-90) scale(0.7274,1)" font-size="18" font-weight="normal" fill="#4a4a4a" stroke="#4a4a4a" stroke-width="0.3">8 - Vado Ligure</text>
<text transform="translate(651.94,416.00) rotate(-90) scale(0.7326,1)" font-size="18" font-weight="normal" fill="#4a4a4a" stroke="#4a4a4a" stroke-width="0.3">6 - Spotorno</text>
<text transform="translate(699.66,416.00) rotate(-90) scale(0.7234,1)" font-size="18" font-weight="normal" fill="#4a4a4a" stroke="#4a4a4a" stroke-width="0.3">9 - Finale Ligure</text>
<text transform="translate(734.95,416.00) rotate(-90) scale(0.7291,1)" font-size="18" font-weight="normal" fill="#4a4a4a" stroke="#4a4a4a" stroke-width="0.3">8 - Loano</text>
<text transform="translate(773.84,416.00) rotate(-90) scale(0.7526,1)" font-size="18" font-weight="normal" fill="#4a4a4a" stroke="#4a4a4a" stroke-width="0.3">9 - Albenga</text>
<text transform="translate(802.72,416.40) rotate(-90) scale(0.7820,1)" font-size="18" font-weight="normal" fill="#4a4a4a" stroke="#4a4a4a" stroke-width="0.3">11 - Alassio</text>
<text transform="translate(825.97,410.40) rotate(-90) scale(0.7240,1)" font-size="18" font-weight="bold" fill="#000" stroke="#000" stroke-width="0.45">67 - CAPO MELE</text>
<text transform="translate(845.62,410.40) rotate(-90) scale(0.6991,1)" font-size="18" font-weight="bold" fill="#000" stroke="#000" stroke-width="0.45">61 - CAPO CERVO</text>
<text transform="translate(875.00,403.40) rotate(-90) scale(0.7159,1)" font-size="18" font-weight="bold" fill="#000" stroke="#000" stroke-width="0.45">130 - CAPO BERTA</text>
<text transform="translate(892.23,413.40) rotate(-90) scale(0.7146,1)" font-size="18" font-weight="normal" fill="#4a4a4a" stroke="#4a4a4a" stroke-width="0.3">12 - Imperia-Oneglia</text>
<text transform="translate(35.20,561.3) rotate(-90) scale(0.714,1)" text-anchor="end" font-size="18" font-weight="normal" fill="#4a4a4a" stroke="#4a4a4a" stroke-width="0.3">40.2</text>
<text transform="translate(76.91,561.3) rotate(-90) scale(0.714,1)" text-anchor="end" font-size="18" font-weight="normal" fill="#4a4a4a" stroke="#4a4a4a" stroke-width="0.3">50.6</text>
<text transform="translate(106.18,561.3) rotate(-90) scale(0.714,1)" text-anchor="end" font-size="18" font-weight="normal" fill="#4a4a4a" stroke="#4a4a4a" stroke-width="0.3">57.9</text>
<text transform="translate(158.71,561.3) rotate(-90) scale(0.714,1)" text-anchor="end" font-size="18" font-weight="normal" fill="#4a4a4a" stroke="#4a4a4a" stroke-width="0.3">71.0</text>
<text transform="translate(217.17,561.3) rotate(-90) scale(0.714,1)" text-anchor="end" font-size="18" font-weight="normal" fill="#4a4a4a" stroke="#4a4a4a" stroke-width="0.3">86.8</text>
<text transform="translate(237.71,561.3) rotate(-90) scale(0.714,1)" text-anchor="end" font-size="18" font-weight="normal" fill="#4a4a4a" stroke="#4a4a4a" stroke-width="0.3">90.7</text>
<text transform="translate(265.78,561.3) rotate(-90) scale(0.714,1)" text-anchor="end" font-size="18" font-weight="normal" fill="#4a4a4a" stroke="#4a4a4a" stroke-width="0.3">97.7</text>
<text transform="translate(309.89,561.3) rotate(-90) scale(0.714,1)" text-anchor="end" font-size="18" font-weight="normal" fill="#4a4a4a" stroke="#4a4a4a" stroke-width="0.3">108.7</text>
<text transform="translate(334.75,561.3) rotate(-90) scale(0.714,1)" text-anchor="end" font-size="18" font-weight="normal" fill="#4a4a4a" stroke="#4a4a4a" stroke-width="0.3">114.9</text>
<text transform="translate(378.86,561.3) rotate(-90) scale(0.714,1)" text-anchor="end" font-size="18" font-weight="normal" fill="#4a4a4a" stroke="#4a4a4a" stroke-width="0.3">125.9</text>
<text transform="translate(399.31,561.3) rotate(-90) scale(0.714,1)" text-anchor="end" font-size="18" font-weight="normal" fill="#4a4a4a" stroke="#4a4a4a" stroke-width="0.3">131.0</text>
<text transform="translate(432.59,561.3) rotate(-90) scale(0.714,1)" text-anchor="end" font-size="18" font-weight="bold" fill="#000" stroke="#000" stroke-width="0.2">139.3</text>
<text transform="translate(480.31,561.3) rotate(-90) scale(0.714,1)" text-anchor="end" font-size="18" font-weight="normal" fill="#4a4a4a" stroke="#4a4a4a" stroke-width="0.3">151.2</text>
<text transform="translate(524.02,561.3) rotate(-90) scale(0.714,1)" text-anchor="end" font-size="18" font-weight="normal" fill="#4a4a4a" stroke="#4a4a4a" stroke-width="0.3">162.1</text>
<text transform="translate(555.30,561.3) rotate(-90) scale(0.714,1)" text-anchor="end" font-size="18" font-weight="normal" fill="#4a4a4a" stroke="#4a4a4a" stroke-width="0.3">169.9</text>
<text transform="translate(600.61,561.3) rotate(-90) scale(0.714,1)" text-anchor="end" font-size="18" font-weight="normal" fill="#4a4a4a" stroke="#4a4a4a" stroke-width="0.3">181.2</text>
<text transform="translate(623.47,561.3) rotate(-90) scale(0.714,1)" text-anchor="end" font-size="18" font-weight="normal" fill="#4a4a4a" stroke="#4a4a4a" stroke-width="0.3">186.9</text>
<text transform="translate(651.94,561.3) rotate(-90) scale(0.714,1)" text-anchor="end" font-size="18" font-weight="normal" fill="#4a4a4a" stroke="#4a4a4a" stroke-width="0.3">194.0</text>
<text transform="translate(699.66,561.3) rotate(-90) scale(0.714,1)" text-anchor="end" font-size="18" font-weight="normal" fill="#4a4a4a" stroke="#4a4a4a" stroke-width="0.3">205.9</text>
<text transform="translate(734.95,561.3) rotate(-90) scale(0.714,1)" text-anchor="end" font-size="18" font-weight="normal" fill="#4a4a4a" stroke="#4a4a4a" stroke-width="0.3">214.7</text>
<text transform="translate(773.84,561.3) rotate(-90) scale(0.714,1)" text-anchor="end" font-size="18" font-weight="normal" fill="#4a4a4a" stroke="#4a4a4a" stroke-width="0.3">224.4</text>
<text transform="translate(802.72,561.3) rotate(-90) scale(0.714,1)" text-anchor="end" font-size="18" font-weight="normal" fill="#4a4a4a" stroke="#4a4a4a" stroke-width="0.3">231.6</text>
<text transform="translate(825.97,561.3) rotate(-90) scale(0.714,1)" text-anchor="end" font-size="18" font-weight="bold" fill="#000" stroke="#000" stroke-width="0.2">237.4</text>
<text transform="translate(845.62,561.3) rotate(-90) scale(0.714,1)" text-anchor="end" font-size="18" font-weight="bold" fill="#000" stroke="#000" stroke-width="0.2">242.3</text>
<text transform="translate(873.60,561.3) rotate(-90) scale(0.714,1)" text-anchor="end" font-size="18" font-weight="bold" fill="#000" stroke="#000" stroke-width="0.2">250.1</text>
<text transform="translate(891.33,561.3) rotate(-90) scale(0.714,1)" text-anchor="end" font-size="18" font-weight="normal" fill="#4a4a4a" stroke="#4a4a4a" stroke-width="0.3">253.1</text>
<g transform="translate(362.6,521.4)"><circle r="6.9" fill="#fff" stroke="#444" stroke-width="1.1"/><rect x="-2.6" y="-5.5" width="1.2" height="11" fill="#222"/><rect x="1.4" y="-5.5" width="1.2" height="11" fill="#222"/><path d="M-3.4,-3.8 h6.8 M-3.4,-1.3 h6.8 M-3.4,1.3 h6.8 M-3.4,3.8 h6.8" stroke="#222" stroke-width="1.1"/></g>
<g transform="translate(355.2,521.4)"><circle r="6.9" fill="#fff" stroke="#444" stroke-width="1.1"/><rect x="-2.6" y="-5.5" width="1.2" height="11" fill="#222"/><rect x="1.4" y="-5.5" width="1.2" height="11" fill="#222"/><path d="M-3.4,-3.8 h6.8 M-3.4,-1.3 h6.8 M-3.4,1.3 h6.8 M-3.4,3.8 h6.8" stroke="#222" stroke-width="1.1"/></g>
<g transform="translate(370.1,521.4)"><circle r="6.9" fill="#fff" stroke="#444" stroke-width="1.1"/><rect x="-2.6" y="-5.5" width="1.2" height="11" fill="#222"/><rect x="1.4" y="-5.5" width="1.2" height="11" fill="#222"/><path d="M-3.4,-3.8 h6.8 M-3.4,-1.3 h6.8 M-3.4,1.3 h6.8 M-3.4,3.8 h6.8" stroke="#222" stroke-width="1.1"/></g>
<g transform="translate(440.9,521.4)"><circle r="6.9" fill="#fff" stroke="#5a5a5a" stroke-width="1.1"/><path d="M-3.7,5.2 L-3.7,-0.4 A3.7,3.7 0 0 1 3.7,-0.4 L3.7,5.2" fill="none" stroke="#222" stroke-width="1.5"/><path d="M-2.1,4.7 L-2.1,0.4 A2.1,2.1 0 0 1 2.1,0.4 L2.1,4.7 Z" fill="#111"/></g>
<g transform="translate(462.75,521.4)"><circle r="6.9" fill="#fff" stroke="#5a5a5a" stroke-width="1.1"/><path d="M-3.7,5.2 L-3.7,-0.4 A3.7,3.7 0 0 1 3.7,-0.4 L3.7,5.2" fill="none" stroke="#222" stroke-width="1.5"/><path d="M-2.1,4.7 L-2.1,0.4 A2.1,2.1 0 0 1 2.1,0.4 L2.1,4.7 Z" fill="#111"/></g>
<g transform="translate(500.5,521.4)"><circle r="6.9" fill="#fff" stroke="#5a5a5a" stroke-width="1.1"/><path d="M-3.7,5.2 L-3.7,-0.4 A3.7,3.7 0 0 1 3.7,-0.4 L3.7,5.2" fill="none" stroke="#222" stroke-width="1.5"/><path d="M-2.1,4.7 L-2.1,0.4 A2.1,2.1 0 0 1 2.1,0.4 L2.1,4.7 Z" fill="#111"/></g>
<g transform="translate(505.8,521.4)"><circle r="6.9" fill="#fff" stroke="#5a5a5a" stroke-width="1.1"/><path d="M-3.7,5.2 L-3.7,-0.4 A3.7,3.7 0 0 1 3.7,-0.4 L3.7,5.2" fill="none" stroke="#222" stroke-width="1.5"/><path d="M-2.1,4.7 L-2.1,0.4 A2.1,2.1 0 0 1 2.1,0.4 L2.1,4.7 Z" fill="#111"/></g>
<g transform="translate(511.6,521.4)"><circle r="6.9" fill="#fff" stroke="#5a5a5a" stroke-width="1.1"/><path d="M-3.7,5.2 L-3.7,-0.4 A3.7,3.7 0 0 1 3.7,-0.4 L3.7,5.2" fill="none" stroke="#222" stroke-width="1.5"/><path d="M-2.1,4.7 L-2.1,0.4 A2.1,2.1 0 0 1 2.1,0.4 L2.1,4.7 Z" fill="#111"/></g>
<g transform="translate(588.6,521.4)"><circle r="6.9" fill="#fff" stroke="#5a5a5a" stroke-width="1.1"/><path d="M-3.7,5.2 L-3.7,-0.4 A3.7,3.7 0 0 1 3.7,-0.4 L3.7,5.2" fill="none" stroke="#222" stroke-width="1.5"/><path d="M-2.1,4.7 L-2.1,0.4 A2.1,2.1 0 0 1 2.1,0.4 L2.1,4.7 Z" fill="#111"/></g>
<g transform="translate(598.6,521.4)"><circle r="6.9" fill="#fff" stroke="#5a5a5a" stroke-width="1.1"/><path d="M-3.7,5.2 L-3.7,-0.4 A3.7,3.7 0 0 1 3.7,-0.4 L3.7,5.2" fill="none" stroke="#222" stroke-width="1.5"/><path d="M-2.1,4.7 L-2.1,0.4 A2.1,2.1 0 0 1 2.1,0.4 L2.1,4.7 Z" fill="#111"/></g>
<g transform="translate(671,521.4)"><circle r="6.9" fill="#fff" stroke="#5a5a5a" stroke-width="1.1"/><path d="M-3.7,5.2 L-3.7,-0.4 A3.7,3.7 0 0 1 3.7,-0.4 L3.7,5.2" fill="none" stroke="#222" stroke-width="1.5"/><path d="M-2.1,4.7 L-2.1,0.4 A2.1,2.1 0 0 1 2.1,0.4 L2.1,4.7 Z" fill="#111"/></g>
<g transform="translate(678.5,521.4)"><circle r="6.9" fill="#fff" stroke="#5a5a5a" stroke-width="1.1"/><path d="M-3.7,5.2 L-3.7,-0.4 A3.7,3.7 0 0 1 3.7,-0.4 L3.7,5.2" fill="none" stroke="#222" stroke-width="1.5"/><path d="M-2.1,4.7 L-2.1,0.4 A2.1,2.1 0 0 1 2.1,0.4 L2.1,4.7 Z" fill="#111"/></g>
<g transform="translate(686.3,521.4)"><circle r="6.9" fill="#fff" stroke="#5a5a5a" stroke-width="1.1"/><path d="M-3.7,5.2 L-3.7,-0.4 A3.7,3.7 0 0 1 3.7,-0.4 L3.7,5.2" fill="none" stroke="#222" stroke-width="1.5"/><path d="M-2.1,4.7 L-2.1,0.4 A2.1,2.1 0 0 1 2.1,0.4 L2.1,4.7 Z" fill="#111"/></g>
</svg>
</body></html>
